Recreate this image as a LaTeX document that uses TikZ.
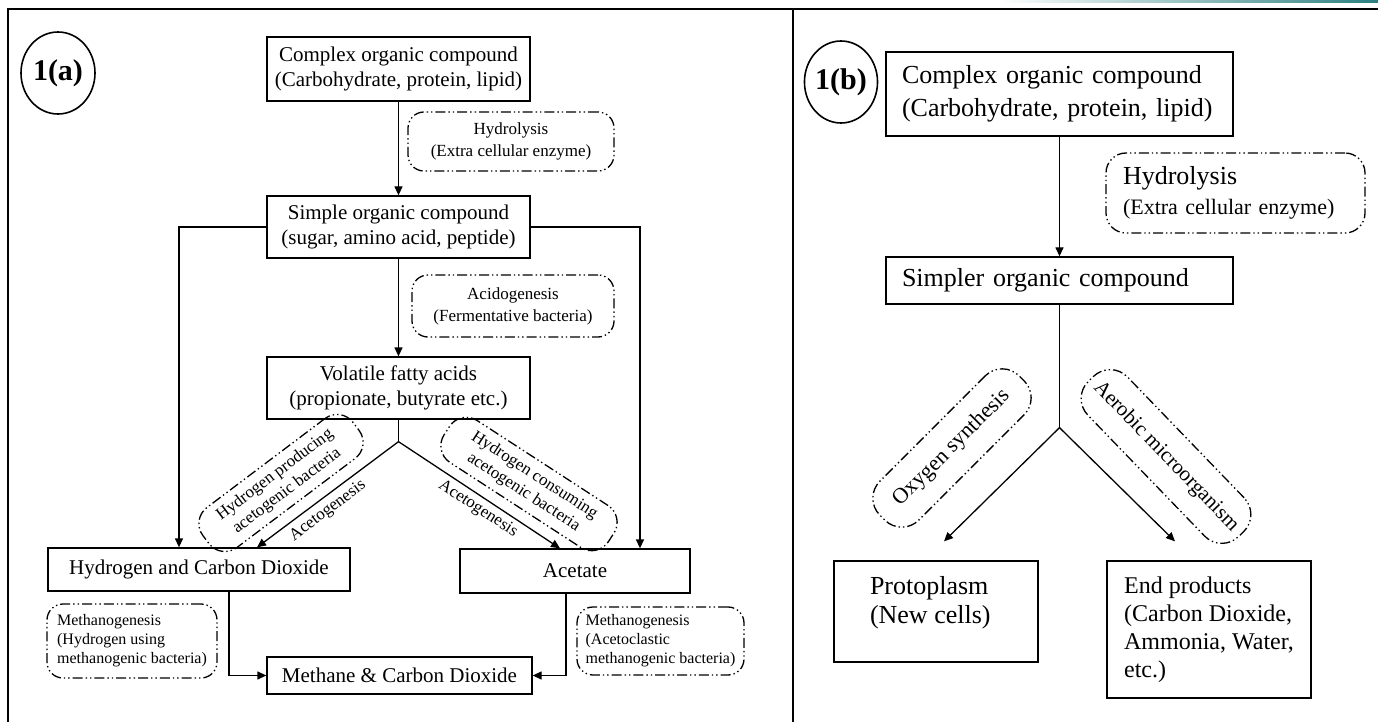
\documentclass[tikz,border=0pt]{standalone}
\usepackage{fontspec}
\setmainfont{Liberation Serif}
\usetikzlibrary{positioning,shapes.geometric,arrows.meta,calc}
\definecolor{myteal}{RGB}{44,128,128}

\begin{document}
\begin{tikzpicture}[x=0.5pt,y=-0.5pt,line width=0.65pt,
	abox/.style={draw,inner sep=1pt,minimum width=131.5pt,align=center,font=\fontsize{10.5}{12.5}\selectfont},
	bbox/.style={draw,inner sep=1pt,inner xsep=8pt,align=left,font=\fontsize{13}{16.5}\selectfont},
	procnode/.style={draw,inner sep=1pt,rounded corners=8pt,align=center,
		dash pattern=on 5pt off 1.5pt on 0.7pt off 1.5pt on 0.7pt off 1.5pt,
		font=\fontsize{8.5}{11}\selectfont},
	tagnode/.style={draw,ellipse,inner sep=0pt,line width=0.8pt,font=\fontsize{15}{15}\selectfont\bfseries},
	flow/.style={-{Triangle[length=4.5pt,width=4pt]}},
	]
	
	% page frame
	\useasboundingbox (0,0) rectangle (1378,722);
	\shade[left color=white,right color=myteal] (1000,0) rectangle (1378,3);
	\draw[line width=1.1pt] (8,722) -- (8,9) -- (1378,9);
	\draw[line width=1.1pt] (793,9) -- (793,722);
	
	% 1(a): the stages
	\node[tagnode,minimum width=37pt,minimum height=41pt] (taga) at (58,73) {1(a)};
	\node[abox,minimum height=32pt] (cpa) at (398.5,69) {Complex organic compound\\(Carbohydrate, protein, lipid)};
	\node[abox,minimum height=31pt] (spa) at (398.5,227) {Simple organic compound\\(sugar, amino acid, peptide)};
	\node[abox,minimum height=31pt] (vfa) at (398.5,388) {Volatile fatty acids\\(propionate, butyrate etc.)};
	\node[abox,minimum width=151pt,minimum height=21.5pt] (hcd) at (199,569.5) {Hydrogen and Carbon Dioxide};
	\node[abox,minimum width=115pt,minimum height=22pt] (ace) at (575,571) {Acetate};
	\node[abox,minimum width=132.5pt,minimum height=18.5pt] (mcd) at (399.5,675.5) {Methane \& Carbon Dioxide};
	
	% 1(a): the processes
	\node[procnode,minimum width=103pt,minimum height=29.5pt] (hyda) at (511,141.5) {Hydrolysis\\(Extra cellular enzyme)};
	\node[procnode,minimum width=101pt,minimum height=31pt] (acda) at (513,306) {Acidogenesis\\(Fermentative bacteria)};
	\node[procnode,rotate=37,minimum width=94pt,minimum height=25pt,rounded corners=10pt,
		font=\fontsize{8.5}{10}\selectfont] (hpab) at (281,483) {Hydrogen producing\\acetogenic bacteria};
	\node[procnode,rotate=-33,minimum width=98pt,minimum height=25pt,rounded corners=10pt,
		font=\fontsize{8.5}{10}\selectfont] (hcab) at (529,484) {Hydrogen consuming\\acetogenic bacteria};
	\node[rotate=37,inner sep=1pt,font=\fontsize{8.5}{10}\selectfont] (acgl) at (328,511) {Acetogenesis};
	\node[rotate=-33,inner sep=1pt,font=\fontsize{8.5}{10}\selectfont] (acgr) at (478,509) {Acetogenesis};
	\node[procnode,minimum width=85pt,minimum height=37pt,align=left,
		font=\fontsize{8}{9.5}\selectfont] (mtha) at (132,641) {Methanogenesis\\(Hydrogen using\\methanogenic bacteria)};
	\node[procnode,minimum width=83.5pt,minimum height=34pt,align=left,
		font=\fontsize{8}{9.5}\selectfont] (mthb) at (660.5,641) {Methanogenesis\\(Acetoclastic\\methanogenic bacteria)};
	
	% 1(a): the edges
	\coordinate (jna) at ([yshift=-11pt]vfa.south);
	\draw[flow] (cpa) -- (spa);
	\draw[flow] (spa) -- (vfa);
	\draw (vfa) -- (jna);
	\draw[flow] (jna) -- ([xshift=29pt]hcd.north);
	\draw[flow] (jna) -- ([xshift=-7.5pt]ace.north);
	\draw[flow] (spa.west) -| ([xshift=-10pt]hcd.north);
	\draw[flow] (spa.east) -| ([xshift=32.5pt]ace.north);
	\draw[flow] ([xshift=15pt]hcd.south) |- (mcd.west);
	\draw[flow] ([xshift=-4.5pt]ace.south) |- (mcd.east);
	
	% 1(b): the stages
	\node[tagnode,minimum width=36.5pt,minimum height=41pt] (tagb) at (841,82) {1(b)};
	\node[bbox,minimum width=173.5pt,minimum height=42pt,text width=157.5pt] (cpb) at (1059.5,94) {Complex organic compound\\(Carbohydrate, protein, lipid)};
	\node[bbox,minimum width=173.5pt,minimum height=23.5pt,text width=157.5pt] (sob) at (1059.5,280.5) {Simpler organic compound};
	\node[bbox,minimum width=102pt,minimum height=50.5pt,
		label={[anchor=north west,align=left,inner sep=0pt,xshift=18pt,yshift=-7.5pt,
		font=\fontsize{13}{14.5}\selectfont]north west:Protoplasm\\(New cells)}] (ppl) at (936,611.5) {};
	\node[bbox,minimum width=102pt,minimum height=68.5pt,font=\fontsize{12}{14}\selectfont] (epr) at (1209,629.5) {End products\\(Carbon Dioxide,\\Ammonia, Water,\\etc.)};
	
	% 1(b): the processes
	\node[procnode,minimum width=129.5pt,minimum height=40pt,rounded corners=10pt,align=left,
		inner xsep=8.5pt,text width=112.5pt,font=\fontsize{11}{15}\selectfont] (hydb) at (1235.5,193)
		{{\fontsize{13}{15}\selectfont Hydrolysis}\\(Extra cellular enzyme)};
	\node[procnode,rotate=45,minimum width=98.5pt,minimum height=27.5pt,rounded corners=12pt,
		font=\fontsize{11}{13}\selectfont] (oxs) at (952,448) {Oxygen synthesis};
	\node[procnode,rotate=-46,minimum width=108pt,minimum height=27.5pt,rounded corners=12pt,
		font=\fontsize{10.5}{13}\selectfont] (aem) at (1166,456.5) {Aerobic microorganism};
	
	% 1(b): the edges
	\coordinate (jnb) at ([yshift=-61.5pt]sob.south);
	\draw[flow] (cpb) -- (sob);
	\draw (sob) -- (jnb);
	\draw[flow] (jnb) -- ([xshift=4pt,yshift=9.5pt]ppl.north);
	\draw[flow] (jnb) -- ([xshift=-17pt,yshift=9.5pt]epr.north);
\end{tikzpicture}
\end{document}
